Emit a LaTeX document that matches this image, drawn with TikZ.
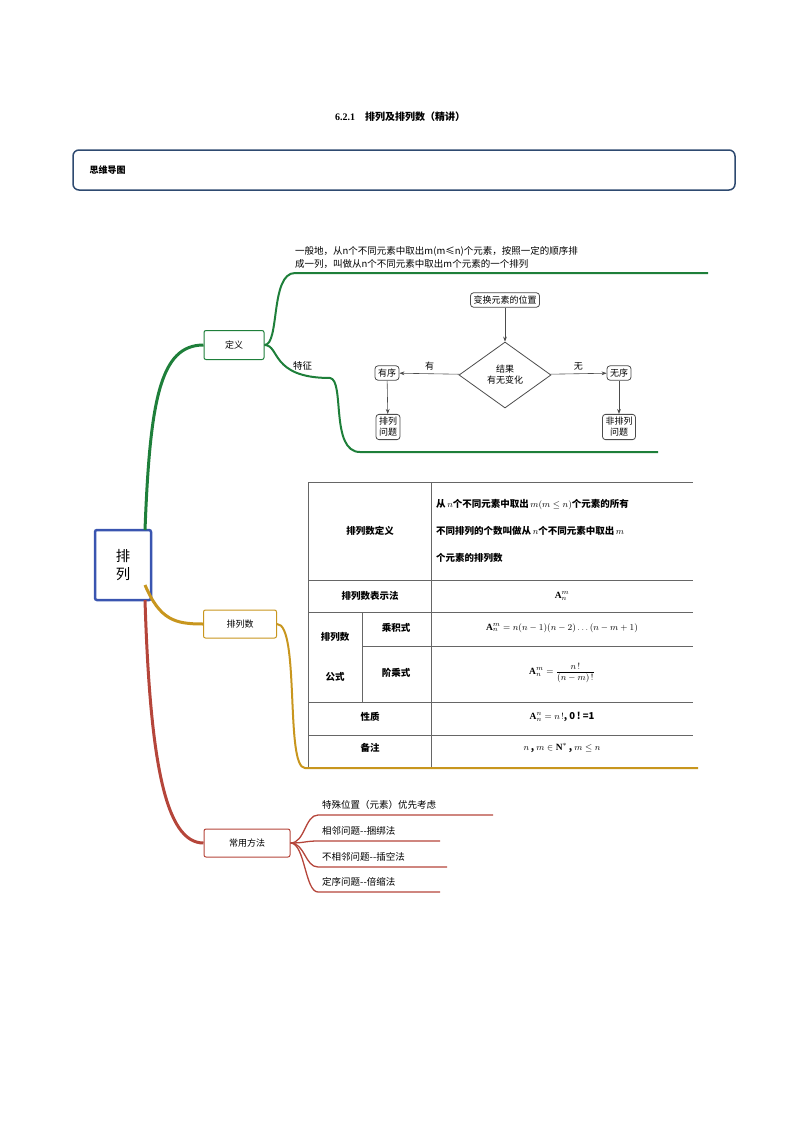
\documentclass[tikz,border=0pt]{standalone}
\usepackage{fontspec}
\setmainfont{Liberation Serif}
\newfontfamily\cjk{Noto Sans CJK SC}
\usetikzlibrary{shapes.geometric,arrows.meta}
\definecolor{gr}{HTML}{1E7F3A}
\definecolor{gd}{HTML}{C8961E}
\definecolor{rd}{HTML}{B5453A}
\definecolor{bl}{HTML}{3A55B0}
\definecolor{hd}{HTML}{2E4A70}
\tikzset{
  br/.style={rounded corners=2pt,draw=#1,line width=1pt,fill=white,font=\cjk\small,inner sep=0pt},
  fc/.style={draw=black!70,rounded corners=3pt,line width=0.8pt,font=\cjk\small,align=center,inner sep=3pt},
  fa/.style={-{Stealth[length=5pt]},line width=0.6pt,draw=black!70},
  tx/.style={font=\cjk\fontsize{9.5}{13}\selectfont,inner sep=0pt},
  tb/.style={font=\cjk\bfseries\fontsize{9.5}{13}\selectfont,inner sep=0pt}
}
\begin{document}
\begin{tikzpicture}[x=1pt,y=-1pt]
\useasboundingbox (0,0) rectangle (800,1132);
\node (title) at (400,117) {\bfseries 6.2.1\quad{\cjk 排列及排列数（精讲）}};
\node[draw=hd,line width=1.5pt,rounded corners=6pt,minimum width=662pt,minimum height=40pt] (hdr) at (404,170) {};
\node[anchor=west,font=\cjk\bfseries\small] (hdt) at (86,170) {思维导图};
% root
\node[draw=bl,line width=2.5pt,rounded corners=2pt,minimum width=56pt,minimum height=70pt,font=\cjk\Large,align=center] (root) at (123,565) {排\\列};
% branches boxes
\node[br=gr,minimum width=60pt,minimum height=29pt] (dy) at (234,345) {定义};
\node[br=gd,minimum width=73pt,minimum height=28pt] (pls) at (240,624) {排列数};
\node[br=rd,minimum width=86pt,minimum height=28pt] (cy) at (247,843) {常用方法};
% green
\draw[gr,line width=3pt] (145,530) .. controls (150,400) and (160,345) .. (dy.west);
\coordinate (g1) at (708,273);
\coordinate (g2) at (658,452);
\draw[gr,line width=2pt] (dy.east) .. controls (280,345) and (270,273) .. (295,273) -- (g1);
\draw[gr,line width=2pt] (dy.east) .. controls (280,345) and (270,378) .. (330,378) .. controls (345,380) and (330,452) .. (360,452) -- (g2);
\node[tx,anchor=west] (tz) at (293,366) {特征};
\node[tx,anchor=west,align=left] (def) at (295,257) {一般地，从n个不同元素中取出m(m≤n)个元素，按照一定的顺序排\\成一列，叫做从n个不同元素中取出m个元素的一个排列};
% flowchart
\node[fc] (f1) at (505,300) {变换元素的位置};
\node[draw=black!70,line width=0.8pt,diamond,aspect=1.4,inner sep=0pt,minimum width=92pt,minimum height=66pt,font=\cjk\small,align=center] (f2) at (505,375) {结果\\有无变化};
\node[fc] (f3) at (387,373) {有序};
\node[fc] (f4) at (388,427) {排列\\问题};
\node[fc] (f5) at (619,373) {无序};
\node[fc] (f6) at (619,427) {非排列\\问题};
\draw[fa] (f1) -- (f2);
\draw[fa] (f2) -- node[above,font=\cjk\small]{有} (f3);
\draw[fa] (f2) -- node[above,font=\cjk\small]{无} (f5);
\draw[fa] (f3) -- (f4);
\draw[fa] (f5) -- (f6);
% gold
\coordinate (y1) at (698,768);
\draw[gd,line width=3pt] (145,585) .. controls (160,620) and (175,624) .. (pls.west);
\draw[gd,line width=2pt] (pls.east) .. controls (300,624) and (285,768) .. (305,768) -- (y1);
% table
\begin{scope}[line width=0.6pt,draw=black!60]
\draw (308,482) -- (693,482);
\foreach \y in {580,612,702,735} \draw (308,\y) -- (693,\y);
\draw (362,646) -- (693,646);
\draw (308,482) -- (308,767);
\draw (431,482) -- (431,767);
\draw (362,612) -- (362,702);
\end{scope}
\node[tb] (t1) at (370,531) {排列数定义};
\node[tb,anchor=west,align=left,font=\cjk\bfseries\fontsize{9.5}{27}\selectfont] (t2) at (436,531) {从\,$n$个不同元素中取出\,$m(m\leq n)$个元素的所有\\不同排列的个数叫做从\,$n$个不同元素中取出\,$m$\\个元素的排列数};
\node[tb] (t3) at (370,596) {排列数表示法};
\node[tb] (t4) at (562,596) {$\mathbf{A}_n^m$};
\node[tb,align=center,font=\cjk\bfseries\fontsize{9.5}{40}\selectfont] (t5) at (335,657) {排列数\\公式};
\node[tb] (t6) at (396,628) {乘积式};
\node[tb] (t7) at (396,673) {阶乘式};
\node[tb] (t8) at (562,628) {$\mathbf{A}_n^m=n(n-1)(n-2)\ldots(n-m+1)$};
\node[tb] (t9) at (562,673) {$\displaystyle\mathbf{A}_n^m=\frac{n\,!}{(n-m)\,!}$};
\node[tb] (t10) at (370,717) {性质};
\node[tb] (t11) at (562,717) {$\mathbf{A}_n^n=n\,!$,\ 0\,!\ =1};
\node[tb] (t12) at (370,748) {备注};
\node[tb] (t13) at (562,748) {$n$\,,\ $m\in\mathbf{N}^*$\,,\ $m\leq n$};
% red
\draw[rd,line width=3pt] (145,600) .. controls (150,760) and (165,843) .. (cy.west);
\coordinate (r1) at (493,815);
\coordinate (r2) at (440,841);
\coordinate (r3) at (447,867);
\coordinate (r4) at (440,892);
\foreach \c/\yy in {r1/815,r2/841,r3/867,r4/892}
  \draw[rd,line width=1.3pt] (cy.east) .. controls (305,843) and (305,\yy) .. (318,\yy) -- (\c);
\node[tx,anchor=west] (m1) at (322,805) {特殊位置（元素）优先考虑};
\node[tx,anchor=west] (m2) at (322,831) {相邻问题--捆绑法};
\node[tx,anchor=west] (m3) at (322,857) {不相邻问题--插空法};
\node[tx,anchor=west] (m4) at (322,882) {定序问题--倍缩法};
\end{tikzpicture}
\end{document}
